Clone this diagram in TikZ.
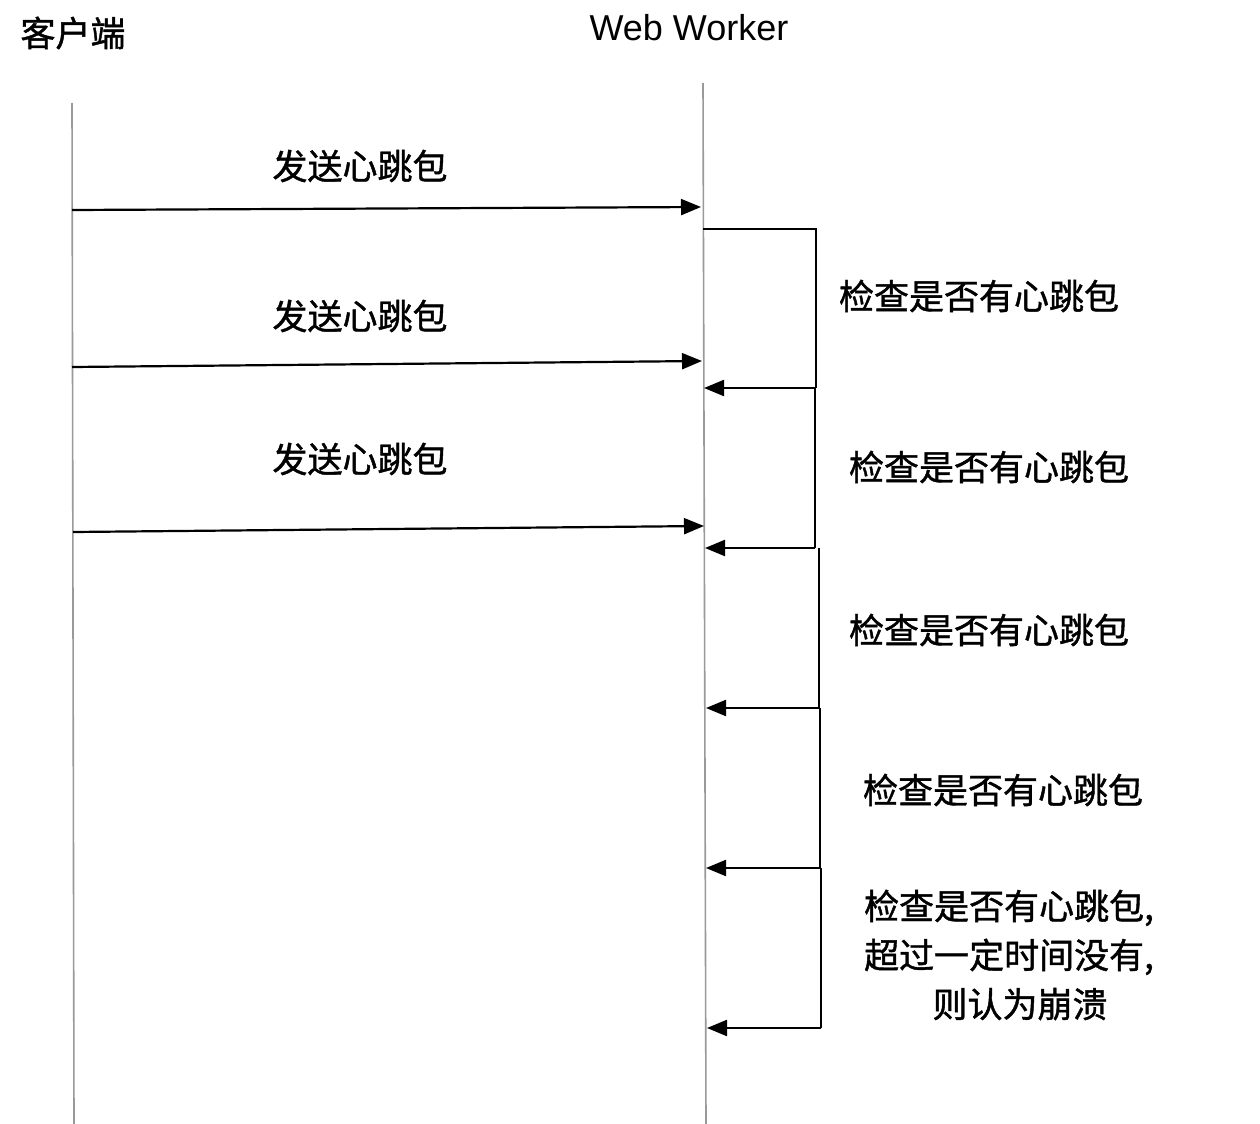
\documentclass[tikz,border=0pt]{standalone}
\usepackage{fontspec}
\setmainfont{Liberation Sans}
\newfontfamily\cjk[FakeBold=1.2]{Noto Sans CJK SC}
\usetikzlibrary{arrows.meta}
\begin{document}
\begin{tikzpicture}[x=0.5pt,y=-0.5pt,
  lifeline/.style={draw=gray!80, line width=0.8pt},
  msg/.style={draw=black, line width=1.1pt, -{Triangle[length=10pt,width=8pt]}},
  loopline/.style={draw=black, line width=1.1pt},
  lbl/.style={inner sep=0pt, font={\cjk\fontsize{17.5}{24.5}\selectfont}, align=center},
  head/.style={inner sep=0pt, font={\fontsize{18}{22}\selectfont}}]
\useasboundingbox (0,0) rectangle (1260,1124);
% headers
\node[lbl] (hc) at (73,33) {客户端};
\node[head] (hw) at (689,28) {Web Worker};
% lifelines
\coordinate (ct) at (72,103);
\coordinate (cb) at (74,1124);
\coordinate (wt) at (703,83);
\coordinate (wb) at (706,1124);
\draw[lifeline] (ct) -- (cb);
\draw[lifeline] (wt) -- (wb);
% client messages
\coordinate (m1s) at (72,210);  \coordinate (m1e) at (701,207);
\coordinate (m2s) at (72,367);  \coordinate (m2e) at (702,361);
\coordinate (m3s) at (73,532);  \coordinate (m3e) at (704,526);
\draw[msg] (m1s) -- (m1e);
\draw[msg] (m2s) -- (m2e);
\draw[msg] (m3s) -- (m3e);
\node[lbl] (s1) at (360,166) {发送心跳包};
\node[lbl] (s2) at (360,316) {发送心跳包};
\node[lbl] (s3) at (360,459) {发送心跳包};
% worker self-checks
\coordinate (l0a) at (703,229);
\coordinate (l0b) at (816,229);
\coordinate (l1r) at (816,388); \coordinate (l1l) at (704,388);
\coordinate (l2t) at (815,388); \coordinate (l2r) at (815,548); \coordinate (l2l) at (705,548);
\coordinate (l3t) at (819,548); \coordinate (l3r) at (819,708); \coordinate (l3l) at (706,708);
\coordinate (l4t) at (820,708); \coordinate (l4r) at (820,868); \coordinate (l4l) at (706,868);
\coordinate (l5t) at (821,868); \coordinate (l5r) at (821,1028); \coordinate (l5l) at (707,1028);
\draw[loopline] (l0a) -- (l0b) -- (l1r);
\draw[msg] (l1r) -- (l1l);
\draw[loopline] (l2t) -- (l2r);
\draw[msg] (l2r) -- (l2l);
\draw[loopline] (l3t) -- (l3r);
\draw[msg] (l3r) -- (l3l);
\draw[loopline] (l4t) -- (l4r);
\draw[msg] (l4r) -- (l4l);
\draw[loopline] (l5t) -- (l5r);
\draw[msg] (l5r) -- (l5l);
\node[lbl] (c1) at (979,296) {检查是否有心跳包};
\node[lbl] (c2) at (989,467) {检查是否有心跳包};
\node[lbl] (c3) at (989,630) {检查是否有心跳包};
\node[lbl] (c4) at (1003,790) {检查是否有心跳包};
\node[lbl] (c5) at (1009,955) {检查是否有心跳包,\\超过一定时间没有,\\\hspace*{11pt}则认为崩溃};
\end{tikzpicture}
\end{document}
